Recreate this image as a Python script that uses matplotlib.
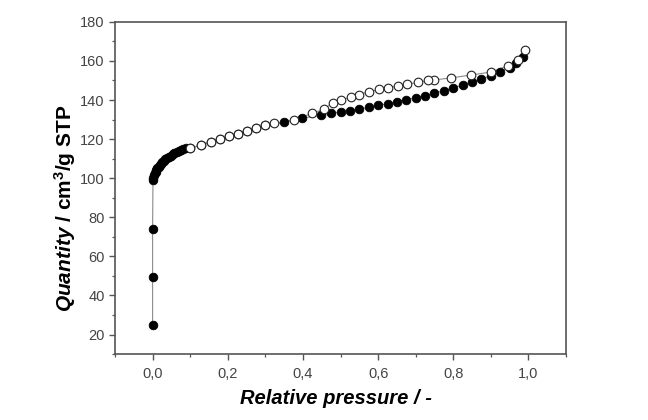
import numpy as np
import matplotlib
matplotlib.use('Agg')
import matplotlib.pyplot as plt
from matplotlib.ticker import MultipleLocator, FuncFormatter

plt.rcParams['font.family'] = ['Liberation Sans', 'DejaVu Sans']
plt.rcParams['mathtext.fontset'] = 'custom'
plt.rcParams['mathtext.rm'] = 'Liberation Sans:bold'
plt.rcParams['mathtext.it'] = 'Liberation Sans:bold:italic'
plt.rcParams['mathtext.bf'] = 'Liberation Sans:bold'

# adsorption branch (filled)
p_ads = [0.0, 0.0, 0.0, 0.001, 0.002, 0.004, 0.006, 0.008, 0.010, 0.013,
         0.016, 0.019, 0.022, 0.026, 0.030, 0.034, 0.038, 0.043, 0.048,
         0.053, 0.058, 0.064, 0.070, 0.076, 0.082, 0.088, 0.10,
         0.128, 0.155, 0.18, 0.204, 0.227, 0.25, 0.274, 0.30, 0.349, 0.398, 0.447,
         0.475, 0.50, 0.525, 0.55, 0.575, 0.60, 0.625, 0.65, 0.675, 0.70,
         0.725, 0.75, 0.775, 0.80, 0.825, 0.85, 0.875, 0.90, 0.925, 0.95,
         0.967, 0.985]
q_ads = [25.0, 49.5, 74.0, 99.0, 100.2, 101.4, 102.4, 103.2, 104.0, 105.0,
         105.8, 106.6, 107.3, 108.1, 108.9, 109.6, 110.2, 110.9, 111.6,
         112.2, 112.8, 113.4, 114.0, 114.5, 115.0, 115.5, 115.2,
         117.0, 118.6, 120.0, 121.5, 122.8, 124.3, 125.5, 127.0, 128.5, 130.6, 132.3,
         133.2, 133.9, 134.6, 135.4, 136.3, 137.2, 138.1, 139.1, 140.1, 141.2,
         142.3, 143.5, 144.8, 146.2, 147.7, 149.3, 150.8, 152.5, 154.5, 156.6,
         158.8, 162.2]

# desorption branch (open)
p_des = [0.992, 0.972, 0.945, 0.90, 0.847, 0.794, 0.75, 0.732, 0.705, 0.678,
         0.652, 0.627, 0.603, 0.576, 0.55, 0.527, 0.502, 0.479, 0.456, 0.425,
         0.376, 0.323, 0.30, 0.274, 0.25, 0.227, 0.204, 0.18, 0.155, 0.128, 0.10]
q_des = [165.5, 160.5, 157.5, 154.3, 152.8, 151.3, 150.3, 150.0, 149.0, 148.2,
         147.2, 146.3, 145.4, 144.3, 142.8, 141.4, 140.1, 138.6, 135.3, 133.2,
         129.8, 128.0, 127.0, 125.5, 124.3, 122.8, 121.5, 120.0, 118.6, 117.0, 115.2]

fig = plt.figure(figsize=(6.48, 4.2), dpi=100)
ax = fig.add_axes([0.1775, 0.157, 0.696, 0.791])

ax.plot(p_ads, q_ads, '-', color='#8a8a8a', linewidth=0.8, zorder=1)
ax.plot(p_des, q_des, '-', color='#8a8a8a', linewidth=0.8, zorder=1)
ax.plot(p_ads, q_ads, 'o', markersize=6.2, markerfacecolor='black',
        markeredgecolor='black', markeredgewidth=0.6, linestyle='none', zorder=2)
ax.plot(p_des, q_des, 'o', markersize=6.2, markerfacecolor='white',
        markeredgecolor='#222222', markeredgewidth=0.8, linestyle='none', zorder=3)

ax.set_xlim(-0.1, 1.1)
ax.set_ylim(10, 180)
ax.xaxis.set_major_locator(MultipleLocator(0.2))
ax.xaxis.set_minor_locator(MultipleLocator(0.1))
ax.yaxis.set_major_locator(MultipleLocator(20))
ax.yaxis.set_minor_locator(MultipleLocator(10))
ax.xaxis.set_major_formatter(FuncFormatter(lambda v, pos: f'{v:.1f}'.replace('.', ',').replace('-0,0', '0,0')))
ax.set_yticks(np.arange(20, 181, 20))

for s in ax.spines.values():
    s.set_color('#555555')
    s.set_linewidth(1.2)
ax.tick_params(which='both', direction='out', color='#555555', labelcolor='#444444',
               labelsize=10.5, top=False, right=False)
ax.tick_params(which='major', length=4, width=1.0)
ax.tick_params(axis='x', which='major', pad=5)
ax.tick_params(which='minor', length=2.5, width=0.9)

ax.set_xlabel('Relative pressure / -', fontsize=14.5, fontweight='bold',
              fontstyle='italic')
ax.set_ylabel(r'$Quantity$ / cm$^3$/g STP', fontsize=15, fontweight='bold')
ax.xaxis.set_label_coords(0.49, -0.105)
ax.yaxis.set_label_coords(-0.082, 0.44)

plt.savefig('out.png', dpi=100)
